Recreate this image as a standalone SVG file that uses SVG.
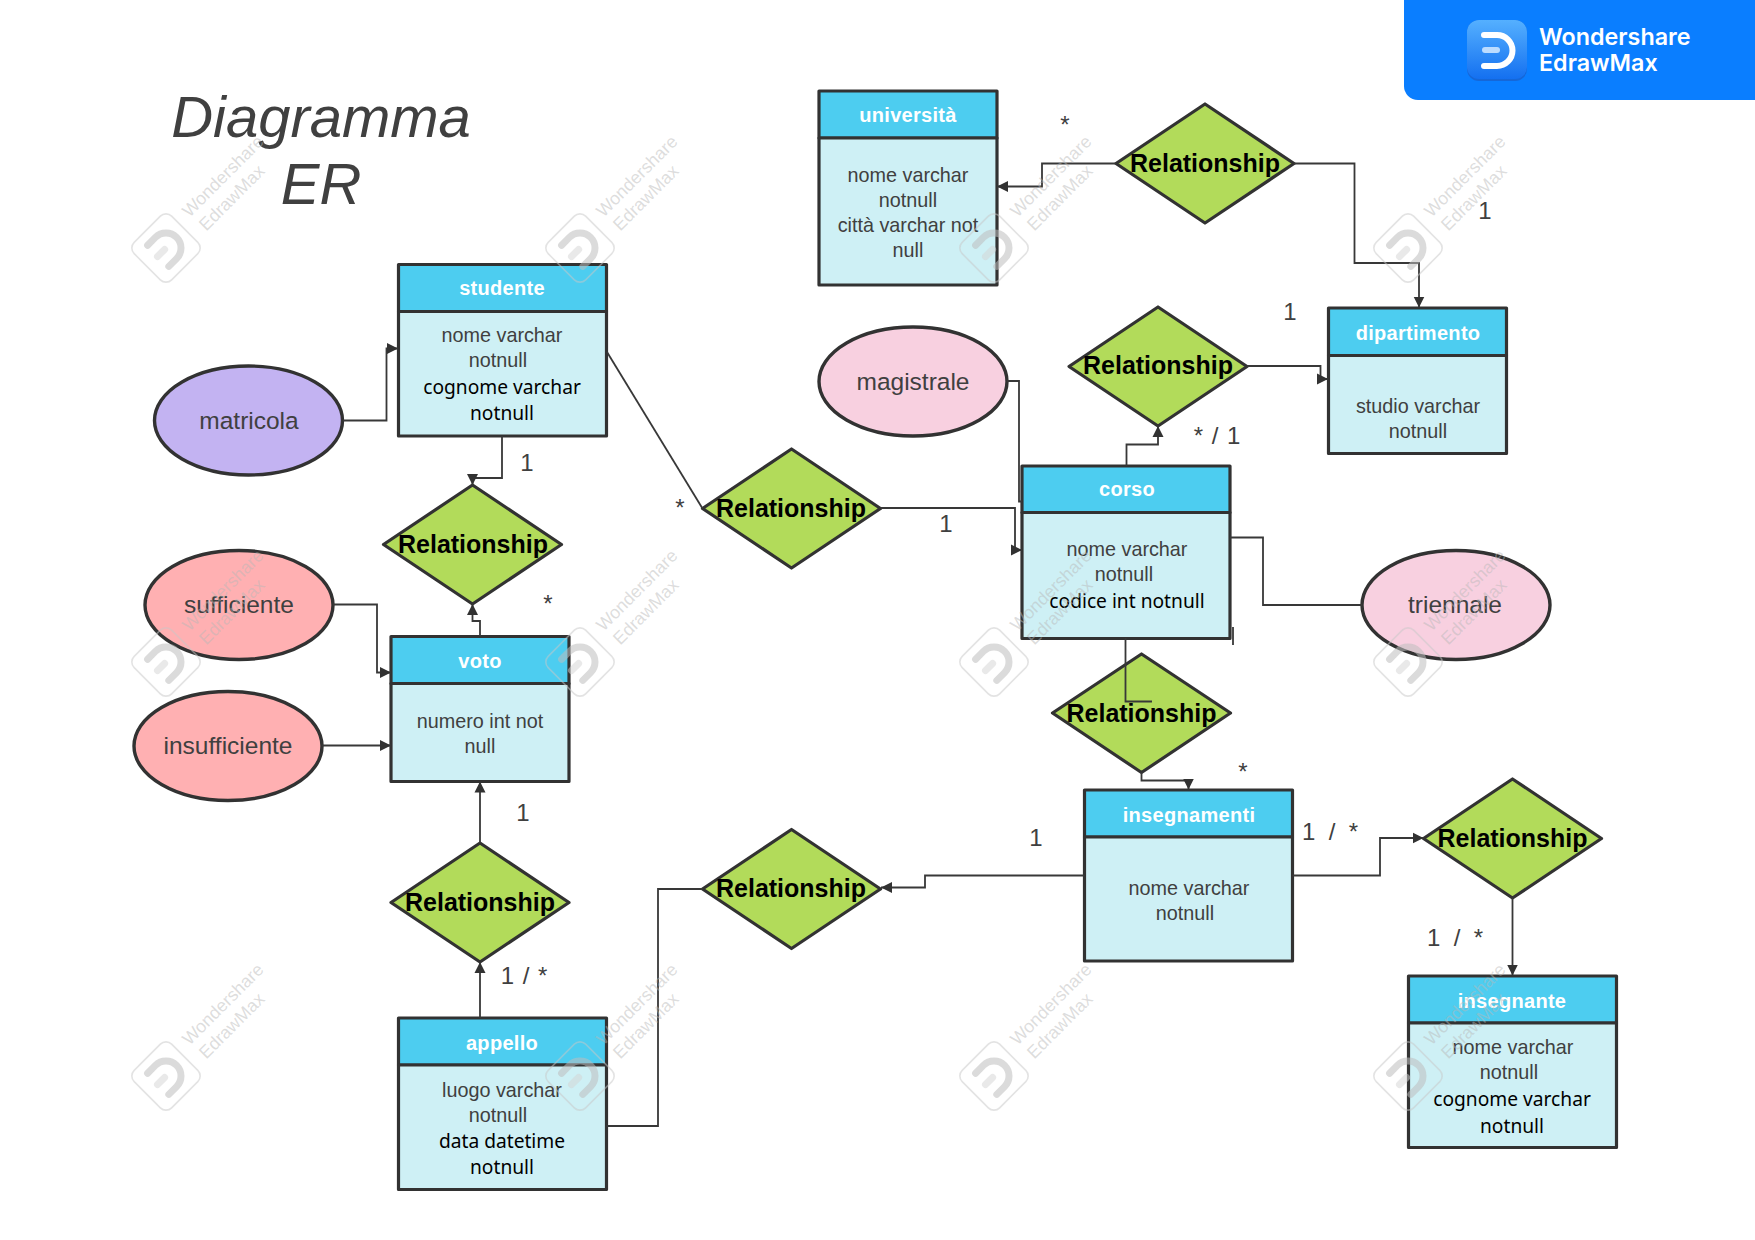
<svg xmlns="http://www.w3.org/2000/svg" width="1755" height="1240" viewBox="0 0 1755 1240">
<style>
.box{stroke:#323232;stroke-width:3.2;stroke-linejoin:round}
.hd{fill:#4dcdf0}.bd{fill:#cef0f5}
.dia{fill:#b2db5a;stroke:#323232;stroke-width:3.2;stroke-linejoin:round}
.ell{stroke:#323232;stroke-width:3.4}
text{font-family:"Liberation Sans",Arial,sans-serif;text-anchor:middle}
.h{font-size:20px;font-weight:700;fill:#fff;letter-spacing:.3px}
.t{font-size:19.8px;fill:#404040}
.k{font-family:"Noto Sans","Liberation Sans",sans-serif;font-size:19.200px;fill:#000}
.r{font-size:25px;font-weight:700;fill:#000}
.e{font-size:24.500px;fill:#404040}
.l{font-size:24px;fill:#404040;word-spacing:2px}
.n{word-spacing:0}
.title{font-size:58px;font-style:italic;fill:#404040}
.c{fill:none;stroke:#383838;stroke-width:1.8}
.wt{font-size:17.800px;fill:#b8b8b8;fill-opacity:.48}
.lt{font-family:Inter,"Liberation Sans",sans-serif;font-size:23.300px;font-weight:600;fill:#fff;text-anchor:start}
</style>
<defs>
<marker id="a" markerUnits="userSpaceOnUse" markerWidth="12" markerHeight="12" refX="11" refY="6" orient="auto"><path d="M0,0.5 L11,6 L0,11.500z" fill="#323232"/></marker>
<linearGradient id="lg" x1="0" y1="0" x2="0" y2="1"><stop offset="0" stop-color="#55b0ff"/><stop offset="1" stop-color="#1470f0"/></linearGradient>
<g id="wm" transform="rotate(-45)" fill="none" stroke-linecap="round"><rect x="-26.500" y="-26.500" width="53" height="53" rx="8" stroke="#c8c8c8" stroke-opacity=".5" stroke-width="1.600"/><path d="M-11,-15H0A15,15 0 0 1 0,15H-11" stroke="#bdbdbd" stroke-opacity=".55" stroke-width="7"/><path d="M-12,0H-2" stroke="#d4d4d4" stroke-opacity=".5" stroke-width="7"/></g>
</defs>
<rect width="1755" height="1240" fill="#fff"/>
<g id="title"><text class="title" x="321" y="137">Diagramma</text><text class="title" x="321" y="204">ER</text></g>

<g id="studente"><rect class="box hd" x="398.500" y="264.500" width="208" height="47"/><rect class="box bd" x="398.500" y="311.500" width="208" height="124.500"/><text class="h" x="502" y="295">studente</text><text class="t" x="502" y="342">nome varchar</text><text class="t" x="498" y="367">notnull</text><text class="k" x="502" y="394">cognome varchar</text><text class="k" x="502" y="420">notnull</text></g>
<g id="universita"><rect class="box hd" x="819" y="91" width="178" height="47"/><rect class="box bd" x="819" y="138" width="178" height="147"/><text class="h" x="908" y="122">università</text><text class="t" x="908" y="182">nome varchar</text><text class="t" x="908" y="207">notnull</text><text class="t" x="908" y="232">città varchar not</text><text class="t" x="908" y="257">null</text></g>
<g id="dipartimento"><rect class="box hd" x="1328.500" y="308" width="178" height="47.500"/><rect class="box bd" x="1328.500" y="355.500" width="178" height="98"/><text class="h" x="1418" y="340">dipartimento</text><text class="t" x="1418" y="413">studio varchar</text><text class="t" x="1418" y="438">notnull</text></g>
<g id="corso"><rect class="box hd" x="1022" y="466" width="208" height="46.500"/><rect class="box bd" x="1022" y="512.500" width="208" height="126"/><text class="h" x="1127" y="496">corso</text><text class="t" x="1127" y="556">nome varchar</text><text class="t" x="1124" y="581">notnull</text><text class="k" x="1127" y="608">codice int notnull</text></g>
<g id="voto"><rect class="box hd" x="391" y="636.500" width="178" height="47"/><rect class="box bd" x="391" y="683.500" width="178" height="98"/><text class="h" x="480" y="668">voto</text><text class="t" x="480" y="728">numero int not</text><text class="t" x="480" y="753">null</text></g>
<g id="insegnamenti"><rect class="box hd" x="1084.500" y="790" width="208" height="47"/><rect class="box bd" x="1084.500" y="837" width="208" height="124"/><text class="h" x="1189" y="822">insegnamenti</text><text class="t" x="1189" y="895">nome varchar</text><text class="t" x="1185" y="920">notnull</text></g>
<g id="insegnante"><rect class="box hd" x="1408.500" y="976" width="208" height="47"/><rect class="box bd" x="1408.500" y="1023" width="208" height="124.500"/><text class="h" x="1512" y="1008">insegnante</text><text class="t" x="1513" y="1054">nome varchar</text><text class="t" x="1509" y="1079">notnull</text><text class="k" x="1512" y="1106">cognome varchar</text><text class="k" x="1512" y="1133">notnull</text></g>
<g id="appello"><rect class="box hd" x="398.500" y="1018" width="208" height="47"/><rect class="box bd" x="398.500" y="1065" width="208" height="124.500"/><text class="h" x="502" y="1050">appello</text><text class="t" x="502" y="1097">luogo varchar</text><text class="t" x="498" y="1122">notnull</text><text class="k" x="502" y="1148">data datetime</text><text class="k" x="502" y="1174">notnull</text></g>

<g id="rel-universita"><path class="dia" d="M1205,104 L1294,163.500 L1205,223 L1116,163.500z"/><text class="r" x="1205" y="172">Relationship</text></g>
<g id="rel-dipartimento"><path class="dia" d="M1158,307 L1247,366.500 L1158,426 L1069,366.500z"/><text class="r" x="1158" y="374">Relationship</text></g>
<g id="rel-studente-corso"><path class="dia" d="M791.500,449 L880.500,508.500 L791.500,568 L702.500,508.500z"/><text class="r" x="791" y="517">Relationship</text></g>
<g id="rel-studente-voto"><path class="dia" d="M472.500,485 L561.500,544.500 L472.500,604 L383.500,544.500z"/><text class="r" x="473" y="553">Relationship</text></g>
<g id="rel-corso"><path class="dia" d="M1141.500,654 L1230.500,713 L1141.500,772.500 L1052.500,713z"/><text class="r" x="1141.500" y="722">Relationship</text></g>
<g id="rel-insegnante"><path class="dia" d="M1512.500,779 L1601.500,838.500 L1512.500,898 L1423.500,838.500z"/><text class="r" x="1512.500" y="847">Relationship</text></g>
<g id="rel-voto"><path class="dia" d="M480,843 L569,902.500 L480,962 L391,902.500z"/><text class="r" x="480" y="911">Relationship</text></g>
<g id="rel-appello"><path class="dia" d="M791.500,829.500 L880.500,889 L791.500,948.500 L702.500,889z"/><text class="r" x="791" y="897">Relationship</text></g>

<g id="matricola"><ellipse class="ell" cx="248.500" cy="420.500" rx="94" ry="54.500" fill="#c3b3f2"/><text class="e" x="249" y="429">matricola</text></g>
<g id="magistrale"><ellipse class="ell" cx="913" cy="381.500" rx="94" ry="54.500" fill="#f8d0e0"/><text class="e" x="913" y="390">magistrale</text></g>
<g id="sufficiente"><ellipse class="ell" cx="239" cy="605" rx="94" ry="54.500" fill="#ffb0b2"/><text class="e" x="239" y="613">sufficiente</text></g>
<g id="insufficiente"><ellipse class="ell" cx="228" cy="746" rx="94" ry="54.500" fill="#ffb0b2"/><text class="e" x="228" y="754">insufficiente</text></g>
<g id="triennale"><ellipse class="ell" cx="1456" cy="605" rx="94" ry="54.500" fill="#f8d0e0"/><text class="e" x="1455" y="613">triennale</text></g>

<g id="connectors">
<path class="c" marker-end="url(#a)" d="M343,420.500H386.500V348.500H398"/>
<path class="c" d="M607,352L702.500,508.500"/>
<path class="c" marker-end="url(#a)" d="M502,436V478H472.500V485"/>
<path class="c" marker-end="url(#a)" d="M480,636V621H472.500V604"/>
<path class="c" marker-end="url(#a)" d="M333,604.500H377V672.500H391"/>
<path class="c" marker-end="url(#a)" d="M322,745.500H391"/>
<path class="c" marker-end="url(#a)" d="M480,843V781.500"/>
<path class="c" marker-end="url(#a)" d="M480,1018V962"/>
<path class="c" d="M606.500,1126H658V889H702.500"/>
<path class="c" marker-end="url(#a)" d="M1084.500,875.500H925V887.500H881"/>
<path class="c" marker-end="url(#a)" d="M1292.500,875.500H1380V838H1423.500"/>
<path class="c" marker-end="url(#a)" d="M1512.500,898V975.500"/>
<path class="c" d="M1125.500,638V701.500H1152"/>
<path class="c" marker-end="url(#a)" d="M1141.500,772.500V780.500H1188.500V789.500"/>
<path class="c" marker-end="url(#a)" d="M880.500,508H1015V550H1022"/>
<path class="c" d="M1007,381H1019V501.500H1022"/>
<path class="c" d="M1230,537.500H1263V605H1362"/>
<path class="c" d="M1233,627V645"/>
<path class="c" marker-end="url(#a)" d="M1126.500,466V444.500H1158V426"/>
<path class="c" marker-end="url(#a)" d="M1247,366H1320.500V379H1328"/>
<path class="c" marker-end="url(#a)" d="M1294,163.500H1354.500V263H1419V307.500"/>
<path class="c" marker-end="url(#a)" d="M1116,163.500H1042V186.500H997"/>
</g>

<g id="labels">
<text class="l" x="1065" y="133">*</text>
<text class="l" x="1485" y="219">1</text>
<text class="l" x="1290" y="320">1</text>
<text class="l" x="1217" y="444">*  / 1</text>
<text class="l" x="527" y="471">1</text>
<text class="l" x="680" y="516">*</text>
<text class="l" x="946" y="532">1</text>
<text class="l" x="548" y="612">*</text>
<text class="l" x="523" y="821">1</text>
<text class="l" x="524" y="984">1 / *</text>
<text class="l" x="1036" y="846">1</text>
<text class="l n" x="1330" y="840" xml:space="preserve">1  /  *</text>
<text class="l n" x="1455" y="946" xml:space="preserve">1  /  *</text>
<text class="l" x="1243" y="780">*</text>
</g>

<g id="watermarks">
<g transform="translate(0,0)"><use href="#wm" transform="translate(166,248)"/><text class="wt" transform="translate(227,180.500) rotate(-45)">Wondershare</text><text class="wt" transform="translate(236,202) rotate(-45)">EdrawMax</text></g>
<g transform="translate(414,0)"><use href="#wm" transform="translate(166,248)"/><text class="wt" transform="translate(227,180.500) rotate(-45)">Wondershare</text><text class="wt" transform="translate(236,202) rotate(-45)">EdrawMax</text></g>
<g transform="translate(828,0)"><use href="#wm" transform="translate(166,248)"/><text class="wt" transform="translate(227,180.500) rotate(-45)">Wondershare</text><text class="wt" transform="translate(236,202) rotate(-45)">EdrawMax</text></g>
<g transform="translate(1242,0)"><use href="#wm" transform="translate(166,248)"/><text class="wt" transform="translate(227,180.500) rotate(-45)">Wondershare</text><text class="wt" transform="translate(236,202) rotate(-45)">EdrawMax</text></g>
<g transform="translate(0,414)"><use href="#wm" transform="translate(166,248)"/><text class="wt" transform="translate(227,180.500) rotate(-45)">Wondershare</text><text class="wt" transform="translate(236,202) rotate(-45)">EdrawMax</text></g>
<g transform="translate(414,414)"><use href="#wm" transform="translate(166,248)"/><text class="wt" transform="translate(227,180.500) rotate(-45)">Wondershare</text><text class="wt" transform="translate(236,202) rotate(-45)">EdrawMax</text></g>
<g transform="translate(828,414)"><use href="#wm" transform="translate(166,248)"/><text class="wt" transform="translate(227,180.500) rotate(-45)">Wondershare</text><text class="wt" transform="translate(236,202) rotate(-45)">EdrawMax</text></g>
<g transform="translate(1242,414)"><use href="#wm" transform="translate(166,248)"/><text class="wt" transform="translate(227,180.500) rotate(-45)">Wondershare</text><text class="wt" transform="translate(236,202) rotate(-45)">EdrawMax</text></g>
<g transform="translate(0,828)"><use href="#wm" transform="translate(166,248)"/><text class="wt" transform="translate(227,180.500) rotate(-45)">Wondershare</text><text class="wt" transform="translate(236,202) rotate(-45)">EdrawMax</text></g>
<g transform="translate(414,828)"><use href="#wm" transform="translate(166,248)"/><text class="wt" transform="translate(227,180.500) rotate(-45)">Wondershare</text><text class="wt" transform="translate(236,202) rotate(-45)">EdrawMax</text></g>
<g transform="translate(828,828)"><use href="#wm" transform="translate(166,248)"/><text class="wt" transform="translate(227,180.500) rotate(-45)">Wondershare</text><text class="wt" transform="translate(236,202) rotate(-45)">EdrawMax</text></g>
<g transform="translate(1242,828)"><use href="#wm" transform="translate(166,248)"/><text class="wt" transform="translate(227,180.500) rotate(-45)">Wondershare</text><text class="wt" transform="translate(236,202) rotate(-45)">EdrawMax</text></g>
</g>

<g id="logo">
<path d="M1404,0H1755V100H1418A14,14 0 0 1 1404,86z" fill="#0a7eff"/>
<rect x="1467" y="20" width="60" height="61" rx="12" fill="#1567d8"/>
<rect x="1467" y="20" width="60" height="59" rx="12" fill="url(#lg)"/>
<path d="M1484,35H1497A15.500,15.500 0 0 1 1497,66H1484" fill="none" stroke="#fff" stroke-width="6" stroke-linecap="round"/>
<path d="M1485,50H1497" fill="none" stroke="#bcdcff" stroke-width="6" stroke-linecap="round"/>
<text class="lt" x="1539" y="45">Wondershare</text>
<text class="lt" x="1539" y="71">EdrawMax</text>
</g>
</svg>
